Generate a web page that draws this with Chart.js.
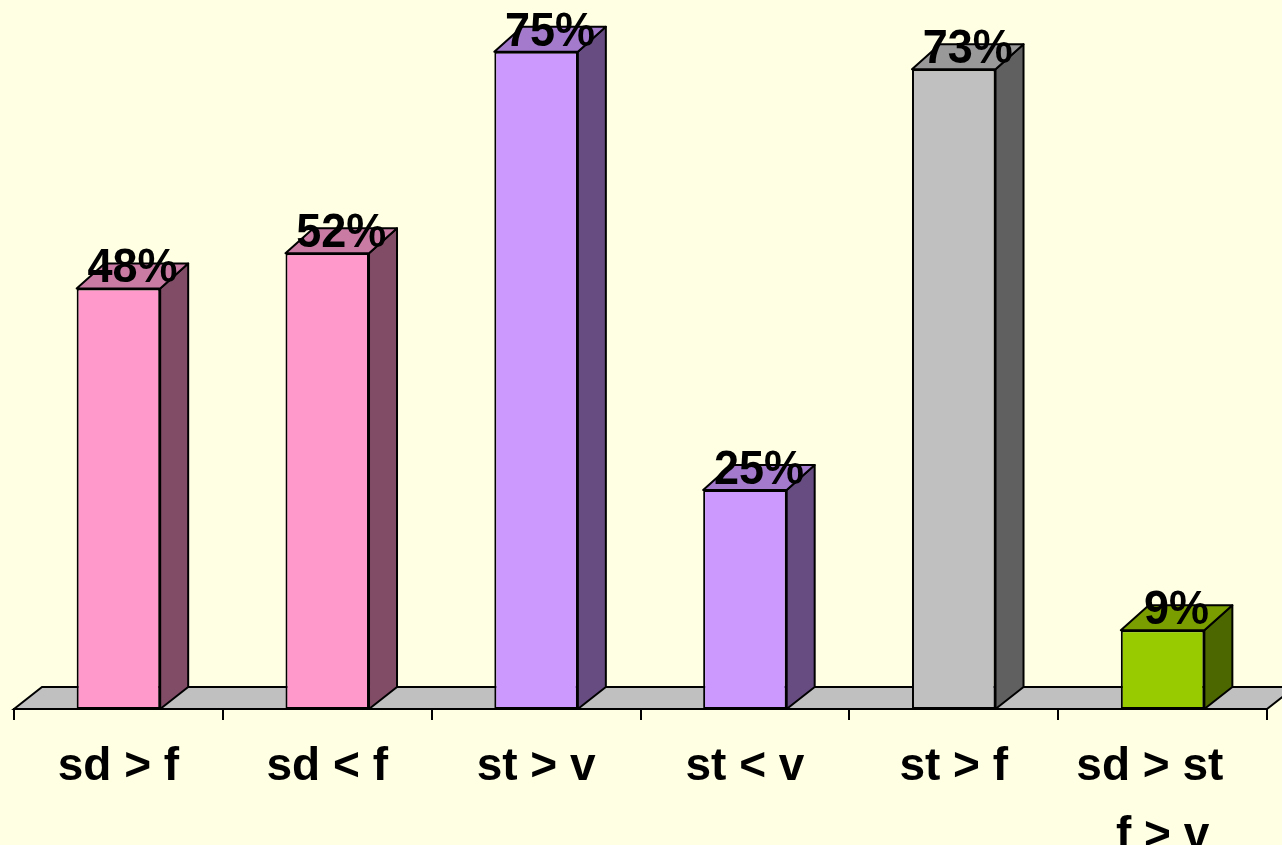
<!DOCTYPE html>
<html>
<head>
<meta charset="utf-8">
<script src="https://cdn.jsdelivr.net/npm/chart.js@4/dist/chart.umd.min.js"></script>
<style>
  html, body { margin: 0; padding: 0; background: #FFFFE3; }
  #wrap { width: 1282px; height: 845px; position: relative; }
</style>
</head>
<body>
<div id="wrap"><canvas id="barChart"></canvas></div>
<script>
// categories and percentages
const categories = ['sd > f', 'sd < f', 'st > v', 'st < v', 'st > f', ['sd > st  ', 'f > v']];
const percents = [48, 52, 75, 25, 73, 9];

// face colours per bar: front, right side, top
const frontColors = ['#FF99CC', '#FF99CC', '#CC99FF', '#CC99FF', '#C0C0C0', '#99CC00'];
const sideColors  = ['#804C66', '#804C66', '#664C80', '#664C80', '#606060', '#4C6600'];
const topColors   = ['#C97BA4', '#C97BA4', '#A37ACC', '#A37ACC', '#999999', '#7A9E00'];

const DEPTH_X = 28;
const DEPTH_Y = 22;
const FONT = '"Liberation Sans", Arial, sans-serif';

function poly(ctx, pts, fill) {
    ctx.beginPath();
    ctx.moveTo(pts[0][0], pts[0][1]);
    for (let k = 1; k < pts.length; k++) ctx.lineTo(pts[k][0], pts[k][1]);
    ctx.closePath();
    ctx.fillStyle = fill;
    ctx.fill();
    ctx.stroke();
}

// grey floor slab under the bars
const floorPlugin = {
    id: 'floor',
    beforeDatasetsDraw(chart) {
        const ctx = chart.ctx;
        const a = chart.chartArea;
        ctx.save();
        ctx.lineWidth = 2;
        ctx.strokeStyle = '#000';
        poly(ctx, [
            [a.left, a.bottom],
            [a.left + DEPTH_X, a.bottom - DEPTH_Y],
            [a.right + DEPTH_X, a.bottom - DEPTH_Y],
            [a.right, a.bottom]
        ], '#C0C0C0');
        ctx.restore();
    }
};

// side and top faces, then the value labels
const boxPlugin = {
    id: 'box3d',
    afterDatasetsDraw(chart) {
        const ctx = chart.ctx;
        const meta = chart.getDatasetMeta(0);
        ctx.save();
        ctx.lineWidth = 2;
        ctx.strokeStyle = '#000';
        ctx.lineJoin = 'round';
        meta.data.forEach((bar, i) => {
            const p = bar.getProps(['x', 'y', 'base', 'width'], true);
            const l = p.x - p.width / 2;
            const r = p.x + p.width / 2;
            const topDy = DEPTH_Y + 3;
            poly(ctx, [
                [r, p.base],
                [r + DEPTH_X, p.base - DEPTH_Y],
                [r + DEPTH_X, p.y - topDy],
                [r, p.y]
            ], sideColors[i]);
            poly(ctx, [
                [l, p.y],
                [l + DEPTH_X, p.y - topDy],
                [r + DEPTH_X, p.y - topDy],
                [r, p.y]
            ], topColors[i]);
        });
        ctx.fillStyle = '#000';
        ctx.font = 'bold 45px ' + FONT;
        ctx.textAlign = 'center';
        ctx.textBaseline = 'alphabetic';
        meta.data.forEach((bar, i) => {
            const p = bar.getProps(['x', 'y'], true);
            // labels are a little taller than the plain font
            ctx.save();
            ctx.translate(p.x + DEPTH_X / 2, p.y - 6);
            ctx.scale(1, 1.08);
            ctx.fillText(percents[i] + '%', 0, 0);
            ctx.restore();
        });
        ctx.restore();
    }
};

const ctx = document.getElementById('barChart').getContext('2d');
new Chart(ctx, {
    type: 'bar',
    data: {
        labels: categories,
        datasets: [{
            data: percents,
            backgroundColor: frontColors,
            borderColor: '#000',
            borderWidth: 2,
            borderSkipped: false,
            barPercentage: 0.4,
            categoryPercentage: 1
        }]
    },
    options: {
        responsive: true,
        maintainAspectRatio: false,
        animation: false,
        layout: { padding: { left: 14, right: 15, top: 8, bottom: 0 } },
        scales: {
            x: {
                grid: {
                    offset: true,
                    drawOnChartArea: false,
                    drawTicks: true,
                    tickLength: 11,
                    color: '#000',
                    lineWidth: 2
                },
                border: { display: true, color: '#000', width: 2 },
                ticks: {
                    color: '#000',
                    padding: 13,
                    maxRotation: 0,
                    autoSkip: false,
                    font: { family: FONT, size: 46, weight: 'bold', lineHeight: 1.5 }
                },
                afterFit(scale) { scale.height = 136; }
            },
            y: { display: false, min: 0, max: 80 }
        },
        plugins: {
            legend: { display: false },
            tooltip: { enabled: false }
        }
    },
    plugins: [floorPlugin, boxPlugin]
});
</script>
</body>
</html>
